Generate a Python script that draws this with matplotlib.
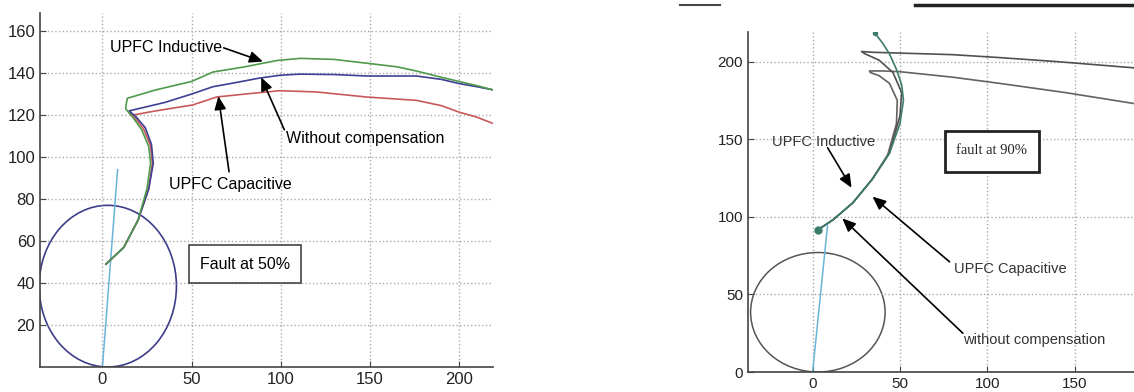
import matplotlib
matplotlib.use("Agg")
import matplotlib.pyplot as plt
import matplotlib.patches as mpatches
from matplotlib.lines import Line2D

plt.rcParams['font.family'] = ['Liberation Sans', 'DejaVu Sans']

# mho circle and impedance line (same for both faults)
circle_center = (3, 38.5)
circle_radius = 38.5
line_x = [0, 8.5]
line_y = [0, 94]

# ---- fault at 50% ----
ind50_x = [2, 12, 20, 25, 27, 26, 22, 17, 13, 13.5, 14, 30, 50, 62, 80, 98, 111, 130, 148, 165, 176, 190, 200, 210, 219]
ind50_y = [49, 57, 70, 85, 97, 105, 113, 119, 123, 126, 128, 132, 136, 140.5, 143, 146, 147, 146.5, 144.7, 143, 141, 138, 136, 134, 132]
wo50_x = [2, 12, 20, 26, 28.5, 27.5, 24, 19, 15, 20, 35, 50, 62, 75, 88, 100, 111, 130, 148, 176, 190, 200, 210, 219]
wo50_y = [49, 57, 70, 85, 97, 106, 114, 119, 122, 123, 126, 130, 133.5, 135.5, 137.6, 139, 139.5, 139.3, 138.6, 138.6, 137, 135, 133.5, 132]
cap50_x = [2, 12, 20, 26, 28, 27, 23, 18, 15, 17, 30, 50.6, 64, 80, 99.4, 120, 148, 176, 190, 200, 210, 219]
cap50_y = [49, 57, 70, 85, 97, 105.5, 113.5, 119, 121, 120, 122, 124.8, 128.6, 130, 131.6, 131, 128.6, 127, 124.5, 121.4, 119, 116]

# ---- fault at 90% ----
a90_x = [3, 11.6, 23, 34, 44, 50, 51, 46, 38, 30, 28, 35, 50, 80, 107, 140, 184]
a90_y = [91.6, 98, 109, 124, 141, 165, 180, 193, 201, 205, 206.5, 206, 205.5, 204.5, 202.6, 200, 196]
b90_x = [3, 11.6, 23, 34, 43, 48, 48.5, 44, 38, 33, 32.6, 40, 50, 80, 107, 145, 184]
b90_y = [91.6, 98, 109, 124, 140, 160, 175, 186, 191, 193, 194, 194, 193.5, 190, 186, 180, 173]
c90_x = [3, 11.6, 23, 34, 44, 50, 52, 51, 48, 44, 40, 35.5]
c90_y = [91.6, 98, 109, 124, 141, 160, 175, 185, 195, 205, 212, 218.6]

fig = plt.figure(figsize=(11.34, 3.92), dpi=100)
ax1 = fig.add_axes([0.0353, 0.0638, 0.3994, 0.903])
ax2 = fig.add_axes([0.6596, 0.051, 0.3404, 0.867])

for ax in (ax1, ax2):
    for s in ('top', 'right'):
        ax.spines[s].set_visible(False)
    for s in ('left', 'bottom'):
        ax.spines[s].set_color('#444444')
        ax.spines[s].set_linewidth(1.2)
    ax.grid(True, linestyle=':', color='#aaaaaa', linewidth=1)
    ax.tick_params(direction='in', length=4, color='#444444', labelsize=12, labelcolor='#222222')

arrow = dict(arrowstyle='-|>,head_length=0.8,head_width=0.35', color='black', lw=1.2, shrinkA=0, shrinkB=0)

# left panel
ax1.add_patch(mpatches.Circle(circle_center, circle_radius, fill=False, color='#3d3d8a', lw=1.2))
ax1.plot(line_x, line_y, color='#6ab4d8', lw=1.1)
ax1.plot(cap50_x, cap50_y, color='#c8585a', lw=1.2)
ax1.plot(wo50_x, wo50_y, color='#3f3f95', lw=1.2)
ax1.plot(ind50_x, ind50_y, color='#4f9a4a', lw=1.2)
ax1.set_xlim(-35, 219)
ax1.set_ylim(0, 168.6)
ax1.set_xticks([0, 50, 100, 150, 200])
ax1.set_yticks([20, 40, 60, 80, 100, 120, 140, 160])

ax1.text(4, 152, 'UPFC Inductive', fontsize=11.5, va='center', ha='left')
ax1.annotate('', xy=(90, 145.5), xytext=(68, 152), arrowprops=arrow)
ax1.text(103, 109, 'Without compensation', fontsize=11.5, va='center', ha='left')
ax1.annotate('', xy=(89, 138), xytext=(102, 113), arrowprops=arrow)
ax1.text(37.6, 86.7, 'UPFC Capacitive', fontsize=11.5, va='center', ha='left')
ax1.annotate('', xy=(65, 129), xytext=(71, 93), arrowprops=arrow)
ax1.text(80, 49, 'Fault at 50%', fontsize=11.5, va='center', ha='center',
         bbox=dict(boxstyle='square,pad=0.7', fc='white', ec='#444444', lw=1.2))

# right panel
ax2.add_patch(mpatches.Circle(circle_center, circle_radius, fill=False, color='#555555', lw=1.1))
ax2.plot(line_x, line_y, color='#6ab4d8', lw=1.1)
ax2.plot(b90_x, b90_y, color='#666060', lw=1.2)
ax2.plot(a90_x, a90_y, color='#505050', lw=1.2)
ax2.plot(c90_x, c90_y, color='#3c7d6e', lw=1.2)
ax2.plot([c90_x[0]], [c90_y[0]], 'o', color='#3c7d6e', ms=5)
ax2.plot([c90_x[-1]], [c90_y[-1]], 'o', color='#3c7d6e', ms=3)
ax2.set_xlim(-37, 184)
ax2.set_ylim(0, 219)
ax2.set_xticks([0, 50, 100, 150])
ax2.set_yticks([0, 50, 100, 150, 200])
ax2.tick_params(labelsize=11)

ax2.text(-23.5, 148, 'UPFC Inductive', fontsize=10.5, va='center', ha='left', color='#333333')
ax2.annotate('', xy=(22.3, 118.7), xytext=(8.6, 144.5), arrowprops=arrow)
ax2.text(80.7, 66.5, 'UPFC Capacitive', fontsize=10.5, va='center', ha='left', color='#333333')
ax2.annotate('', xy=(34.3, 113), xytext=(78.4, 71), arrowprops=arrow)
ax2.text(86, 20.6, 'without compensation', fontsize=10.5, va='center', ha='left', color='#333333')
ax2.annotate('', xy=(17, 99), xytext=(86, 25), arrowprops=arrow)
ax2.add_patch(mpatches.Rectangle((75.6, 129), 53.8, 26.5, fill=True, fc='white', ec='#222222', lw=2, zorder=3))
ax2.text(102.5, 142.6, 'fault at 90%', fontsize=10.5, va='center', ha='center',
         family=['Liberation Serif', 'DejaVu Serif'], color='#222222', zorder=4)

# scanned border remnants at the top of the right panel
fig.add_artist(Line2D([915 / 1134, 1.0], [0.987, 0.987], color='#222222', lw=2.5))
fig.add_artist(Line2D([680 / 1134, 720 / 1134], [0.987, 0.987], color='#444444', lw=1.5))

fig.savefig('out.png', dpi=100)
